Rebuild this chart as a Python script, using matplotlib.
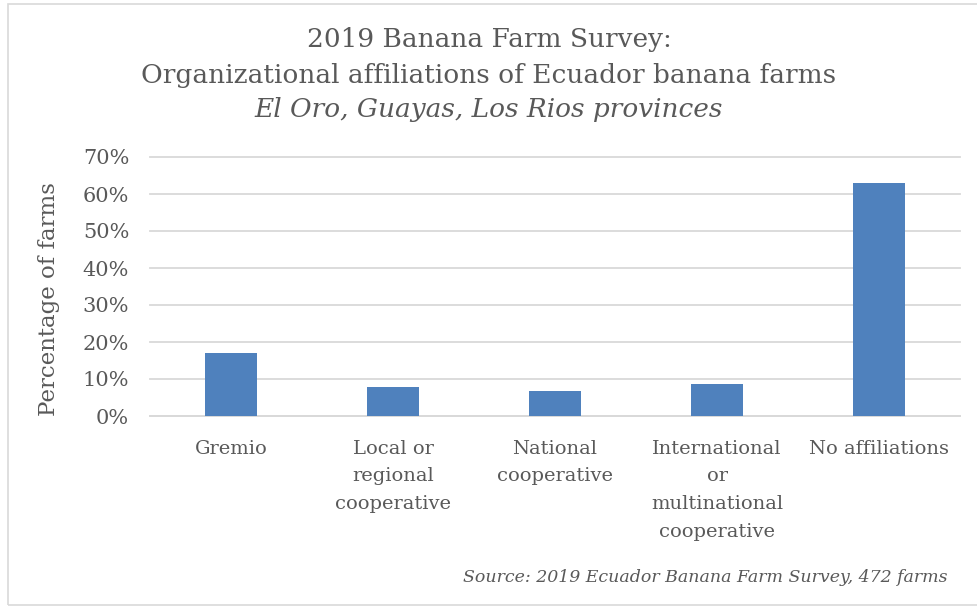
import matplotlib.pyplot as plt
from matplotlib.patches import Rectangle
from matplotlib.ticker import PercentFormatter

# Survey results (share of farms)
categories = ['Gremio', 'Local or\nregional\ncooperative', 'National\ncooperative',
              'International\nor\nmultinational\ncooperative', 'No affiliations']
shares = [0.170, 0.078, 0.068, 0.086, 0.630]
y_ticks = [0, 0.1, 0.2, 0.3, 0.4, 0.5, 0.6, 0.7]

text_color = '#595959'
bar_color = '#4F81BD'
grid_color = '#D9D9D9'

plt.rcParams['font.family'] = ['DejaVu Serif']

W, H = 978, 609
fig = plt.figure(figsize=(W / 100, H / 100), dpi=100)
ax = fig.add_axes([150 / W, 1 - 416 / H, 810 / W, 259 / H])

# outer chart border
fig.patches.append(Rectangle((8 / W, 1 - 605 / H), 1, 601 / H, transform=fig.transFigure,
                             fill=False, edgecolor='#D9D9D9', linewidth=1.2))

x = range(len(categories))
ax.bar(x, shares, width=0.315, color=bar_color, zorder=3)

ax.set_xlim(-0.5, len(categories) - 0.5)
ax.set_ylim(0, 0.7)
ax.set_yticks(y_ticks)
ax.yaxis.set_major_formatter(PercentFormatter(1.0, decimals=0))
ax.set_xticks(list(x))
ax.set_xticklabels(categories, linespacing=1.7)

ax.grid(axis='y', color=grid_color, linewidth=1.3, zorder=0)
for gl in ax.yaxis.get_gridlines():
    gl.set_clip_on(False)
for s in ['top', 'right', 'left']:
    ax.spines[s].set_visible(False)
ax.spines['bottom'].set_color(grid_color)
ax.spines['bottom'].set_linewidth(1.3)
ax.tick_params(axis='both', length=0, labelsize=14, colors=text_color)
ax.tick_params(axis='y', labelsize=15, pad=15)
ax.tick_params(axis='x', pad=17)

ax.set_ylabel('Percentage of farms', fontsize=16.5, color=text_color)
ax.yaxis.set_label_coords(-90 / 810, 0.45)

fig.text(0.5, 1 - 39 / H, '2019 Banana Farm Survey:', ha='center', va='center',
         fontsize=19, color=text_color)
fig.text(0.5, 1 - 75 / H, 'Organizational affiliations of Ecuador banana farms',
         ha='center', va='center', fontsize=19, color=text_color)
fig.text(0.5, 1 - 110 / H, 'El Oro, Guayas, Los Rios provinces', ha='center',
         va='center', fontsize=19, style='italic', color=text_color)
fig.text(948 / W, 1 - 577 / H, 'Source: 2019 Ecuador Banana Farm Survey, 472 farms',
         ha='right', va='center', fontsize=12.5, style='italic', color=text_color)

fig.savefig('out.png', dpi=100)
